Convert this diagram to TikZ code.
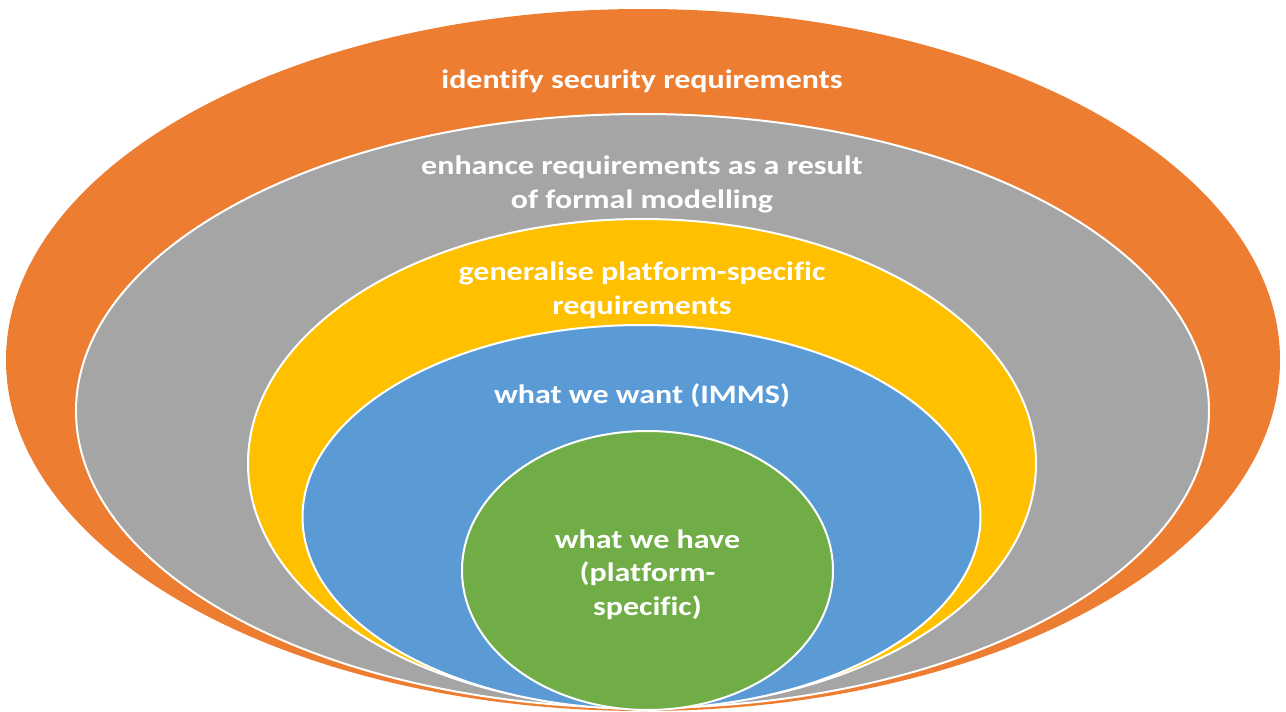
\documentclass[tikz,border=0pt]{standalone}
\usepackage{fontspec}
\setmainfont[FakeStretch=1.2,Ligatures=NoCommon]{Carlito}
\usepackage{xcolor}

\definecolor{ringorange}{RGB}{237,125,49}
\definecolor{ringgray}{RGB}{165,165,165}
\definecolor{ringgold}{RGB}{255,192,0}
\definecolor{ringblue}{RGB}{91,155,213}
\definecolor{ringgreen}{RGB}{112,173,71}

\tikzset{
  ring/.style={draw=white, line width=1.5pt},
  ringtext/.style={text=white, font=\fontsize{20}{24.8}\selectfont\bfseries, align=center, inner sep=0.75pt, anchor=base}
}

\begin{document}
\begin{tikzpicture}[x=0.75pt,y=0.75pt,yscale=-1,xscale=1]
        \useasboundingbox (0,0) rectangle (1286,711);
        % nested rings, outermost first
        \fill [ringorange] (643,360) ellipse [x radius=637, y radius=351];
        \draw [ring, fill=ringgray]  (642.5,411) ellipse [x radius=566.5, y radius=297];
        \draw [ring, fill=ringgold]  (642,463.5) ellipse [x radius=394, y radius=244.5];
        \draw [ring, fill=ringblue]  (641.5,517) ellipse [x radius=339, y radius=192];
        \draw [ring, fill=ringgreen] (647.5,570.5) ellipse [x radius=185.5, y radius=139.5];

        % labels, placed by the baseline of their last line
        \node [ringtext] (identify) at (642,88) {identify security requirements};
        \node [ringtext] (enhance) at (642,208) {enhance requirements as a result\\of formal modelling};
        \node [ringtext] (generalise) at (642,314) {generalise platform-specific\\requirements};
        \node [ringtext] (want) at (642,403) {what we want (IMMS)};
        \node [ringtext] (have) at (647.5,615) {what we have\\(platform-\\specific)};
    \end{tikzpicture}
\end{document}
